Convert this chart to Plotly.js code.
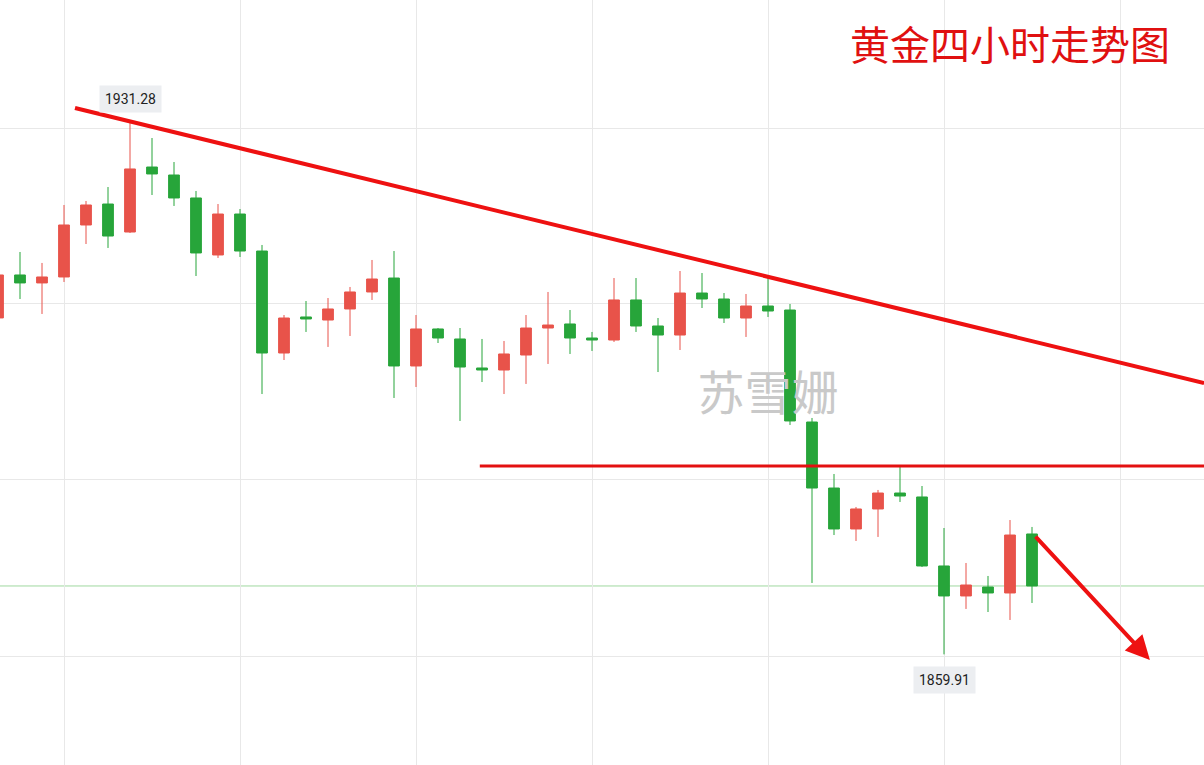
<!DOCTYPE html>
<html>
<head>
<meta charset="utf-8">
<script src="https://cdn.plot.ly/plotly-3.0.1.min.js"></script>
<style>
html,body{margin:0;padding:0;background:#fff;}
#chart{width:1204px;height:765px;}
</style>
</head>
<body>
<div id="chart"></div>
<script>
// ---- data (gold, 4-hour candles) ----
const openP  = [1905.01,1910.77,1909.70,1910.50,1917.47,1920.28,1916.53,1925.24,1924.17,1921.09,
                1913.45,1918.94,1913.98,1900.31,1905.14,1904.73,1906.21,1908.49,1910.36,1898.57,
                1903.53,1902.19,1898.30,1898.03,1900.04,1903.66,1904.20,1902.32,1902.05,1907.42,
                1903.93,1902.72,1908.35,1907.55,1905.00,1906.61,1906.07,1891.06,1882.21,1876.72,
                1879.40,1881.54,1881.01,1871.76,1867.74,1868.94,1868.14,1876.05];
const highP  = [1911.44,1913.85,1912.38,1920.15,1920.69,1922.56,1931.28,1929.13,1925.91,1922.03,
                1920.28,1919.61,1914.79,1905.40,1907.28,1907.68,1909.16,1912.78,1913.98,1905.40,
                1903.66,1903.66,1902.19,1901.92,1905.40,1908.49,1906.07,1903.13,1910.36,1910.36,
                1905.00,1911.30,1911.03,1908.35,1908.22,1910.77,1906.88,1891.60,1884.09,1879.67,
                1881.95,1885.03,1882.48,1876.85,1872.16,1870.42,1877.92,1876.99];
const lowP   = [1904.47,1907.55,1905.54,1909.83,1914.92,1914.39,1916.40,1921.49,1920.02,1910.63,
                1913.05,1913.18,1894.81,1899.37,1903.13,1901.12,1902.59,1907.42,1894.28,1895.75,
                1901.65,1891.20,1896.42,1894.81,1896.16,1898.84,1900.18,1900.58,1901.79,1903.13,
                1897.76,1900.71,1906.34,1904.33,1902.46,1905.14,1890.66,1869.48,1875.91,1875.11,
                1875.65,1880.34,1871.62,1859.91,1866.00,1865.59,1864.52,1866.80];
const closeP = [1910.77,1909.70,1910.50,1917.47,1920.15,1915.99,1924.98,1924.31,1921.09,1913.72,
                1918.94,1913.98,1900.31,1905.00,1904.87,1906.21,1908.49,1910.23,1898.57,1903.53,
                1902.32,1898.43,1898.03,1900.18,1903.66,1904.06,1902.32,1902.05,1907.42,1903.93,
                1902.72,1908.35,1907.55,1905.00,1906.61,1905.94,1891.20,1882.21,1876.72,1879.40,
                1881.54,1881.14,1871.76,1867.74,1869.21,1868.14,1875.91,1869.08];
const barIndex = openP.map((_, i) => i);

// price-grid levels and labelled extremes
const gridPrices = [1930.47, 1906.88, 1883.29, 1859.69];
const gridBars = [3, 11, 19, 27, 35, 43, 51];
const labelHigh = {bar: 6, price: 1931.28, text: '1931.28'};
const labelLow  = {bar: 43, price: 1859.91, text: '1859.91'};
const lastPrice = closeP[closeP.length - 1];

// hand-drawn analysis lines (bar index, price)
const trendLine = {x0: 3.5, y0: 1933.15, x1: 54.82, y1: 1896.29};
const supportLine = {x0: 21.9, x1: 54.82, y: 1885.16};
const arrowLine = {x0: 47.1, y0: 1875.91, x1: 52.36, y1: 1859.16};

const titleText = '黄金四小时走势图';
const watermarkText = '苏雪姗';
const watermarkPos = {bar: 35, price: 1894.3};

const RED = '#e8534a', GREEN = '#27a53a';

const traces = [
  {
    type: 'scatter', mode: 'text',
    x: [watermarkPos.bar], y: [watermarkPos.price],
    text: [watermarkText],
    textfont: {family: 'Noto Sans CJK SC', size: 47, color: '#c9c9c9'},
    hoverinfo: 'skip', showlegend: false
  },
  {
    type: 'candlestick',
    x: barIndex, open: openP, high: highP, low: lowP, close: closeP,
    increasing: {line: {color: RED, width: 1}, fillcolor: RED},
    decreasing: {line: {color: GREEN, width: 1}, fillcolor: GREEN},
    whiskerwidth: 0,
    showlegend: false
  }
];

const shapes = [
  {type: 'line', xref: 'paper', x0: 0, x1: 1, yref: 'y', y0: lastPrice, y1: lastPrice,
   line: {color: '#9fd89f', width: 1}, layer: 'below'},
  {type: 'line', xref: 'x', yref: 'y', x0: trendLine.x0, y0: trendLine.y0, x1: trendLine.x1, y1: trendLine.y1,
   line: {color: '#ee1111', width: 4}},
  {type: 'line', xref: 'x', yref: 'y', x0: supportLine.x0, y0: supportLine.y, x1: supportLine.x1, y1: supportLine.y,
   line: {color: '#e31010', width: 3}}
];

const annotations = [
  {x: arrowLine.x1, y: arrowLine.y1, ax: arrowLine.x0, ay: arrowLine.y0,
   xref: 'x', yref: 'y', axref: 'x', ayref: 'y',
   showarrow: true, arrowhead: 2, arrowsize: 1.2, arrowwidth: 4, arrowcolor: '#ee1111', text: ''},
  {x: labelHigh.bar, y: labelHigh.price, xref: 'x', yref: 'y', text: labelHigh.text,
   showarrow: false, yshift: 23, bgcolor: '#eceef1', borderpad: 5,
   font: {family: 'Roboto, Arial', size: 14, color: '#222'}},
  {x: labelLow.bar, y: labelLow.price, xref: 'x', yref: 'y', text: labelLow.text,
   showarrow: false, yshift: -26, bgcolor: '#eceef1', borderpad: 5,
   font: {family: 'Roboto, Arial', size: 14, color: '#222'}},
  {x: 1, xref: 'paper', xanchor: 'right', xshift: -32, y: 1, yref: 'paper', yanchor: 'top', yshift: -12,
   text: titleText, showarrow: false,
   font: {family: 'Noto Sans CJK SC', size: 40, color: '#e01010'}}
];

const layout = {
  width: 1204, height: 765,
  margin: {l: 0, r: 0, t: 0, b: 0, pad: 0},
  paper_bgcolor: '#ffffff', plot_bgcolor: '#ffffff',
  showlegend: false,
  xaxis: {range: [0.0909, 54.818], tickvals: gridBars, showticklabels: false, ticks: '',
          showgrid: true, gridcolor: '#e8e8e8', gridwidth: 1, zeroline: false, showline: false,
          rangeslider: {visible: false}, fixedrange: true},
  yaxis: {range: [1845.08, 1947.63], tickvals: gridPrices, showticklabels: false, ticks: '',
          showgrid: true, gridcolor: '#e8e8e8', gridwidth: 1, zeroline: false, showline: false,
          fixedrange: true},
  shapes: shapes,
  annotations: annotations,
  hovermode: false
};

Plotly.newPlot('chart', traces, layout, {displayModeBar: false, staticPlot: true});
</script>
</body>
</html>
